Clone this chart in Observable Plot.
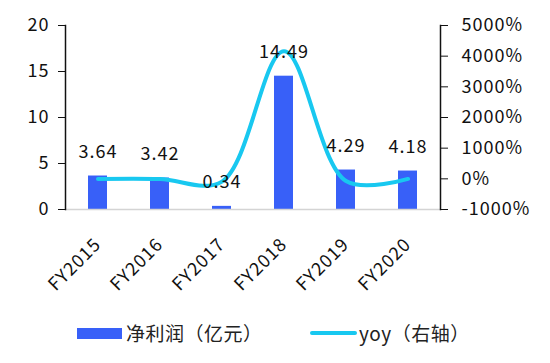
<!DOCTYPE html>
<html><head><meta charset="utf-8">
<script src="https://cdn.jsdelivr.net/npm/d3@7"></script>
<script src="https://cdn.jsdelivr.net/npm/@observablehq/plot@0.6"></script>
<style>
body{margin:0;background:#fff;font-family:"Noto Sans CJK SC","Noto Sans",sans-serif;}
#chart svg{display:block;}
#legend{position:relative;height:53px;font-size:19px;color:#222;}
.sw{position:absolute;}
.lt{position:absolute;line-height:24px;top:11px;white-space:nowrap;letter-spacing:0.5px;}
</style></head>
<body>
<div id="chart"></div>
<div id="legend">
  <span class="sw" style="left:77px;top:18px;width:45px;height:11px;background:#3860F8"></span>
  <span class="lt" style="left:126px">净利润（亿元）</span>
  <span class="sw" style="left:310px;top:21px;width:47px;height:4px;border-radius:2px;background:#18C8F0"></span>
  <span class="lt" style="left:359px">yoy（右轴）</span>
</div>
<script>
const categories = ["FY2015","FY2016","FY2017","FY2018","FY2019","FY2020"];
const profit = [3.64, 3.42, 0.34, 14.49, 4.29, 4.18];
const yoy = [-5, -6, -90, 4162, -70, -3];
const leftTicks = [0,5,10,15,20];
const rightTicks = [-1000,0,1000,2000,3000,4000,5000];

const rMin = -1000, rMax = 5000, lMax = 20;
const toLeft = p => (p - rMin) / (rMax - rMin) * lMax;

const data = categories.map((c,i)=>({cat:c, profit:profit[i], yoy:yoy[i], yl:toLeft(yoy[i])}));

const font = '"Noto Sans CJK SC","Noto Sans",sans-serif';
const chart = Plot.plot({
  width: 550, height: 310,
  marginLeft: 65, marginRight: 110, marginTop: 25, marginBottom: 101,
  style: {fontFamily: font, fontSize: "18px", color: "#111", background: "#fff", letterSpacing: "1px"},
  x: {domain: categories, paddingInner: 0.7, paddingOuter: 0.35, label: null},
  y: {domain: [0, lMax], label: null},
  marks: [
    Plot.barY(data, {x: "cat", y: "profit", fill: "#3860F8"}),
    Plot.ruleY([0], {stroke: "#d4d4d4", strokeWidth: 1.5}),
    Plot.frame({anchor: "left", stroke: "#111", strokeWidth: 1.5}),
    Plot.frame({anchor: "right", stroke: "#111", strokeWidth: 1.5}),
    Plot.axisY({anchor: "left", ticks: leftTicks, tickSize: 7, tickPadding: 9, fontSize: 18, label: null}),
    Plot.axisY({anchor: "right", ticks: rightTicks.map(toLeft), tickSize: 7, tickPadding: 14, fontSize: 18, label: null,
      tickFormat: (d) => `${Math.round(d / lMax * (rMax - rMin) + rMin)}%`}),
    Plot.axisX({tickSize: 0, tickRotate: -45, fontSize: 18, tickPadding: 32, label: null}),
    Plot.line(data, {x: "cat", y: "yl", stroke: "#18C8F0", strokeWidth: 4, curve: "catmull-rom"}),
    Plot.text(data, {x: "cat", y: "profit", text: d => d.profit.toFixed(2), dy: -24, fontSize: 18, fill: "#111"})
  ]
});
document.getElementById("chart").appendChild(chart);
</script>
</body></html>
